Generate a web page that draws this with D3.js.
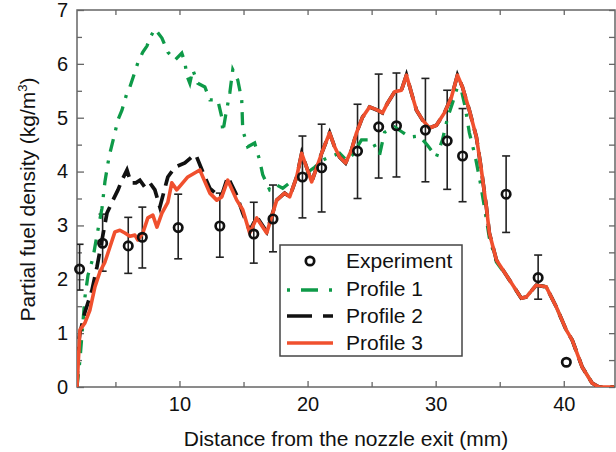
<!DOCTYPE html>
<html><head><meta charset="utf-8">
<script src="https://cdn.jsdelivr.net/npm/d3@7"></script>
<style>
body{margin:0;background:#fff}
svg{display:block}
text{font-family:"Liberation Sans",Arial,Helvetica,sans-serif;fill:#111}
</style>
</head><body>
<svg id="chart" width="616" height="452"></svg>
<script>
// ---------- data ----------
const xMajorTicks = [10, 20, 30, 40];
const xMinorTicks = [5, 15, 25, 35];
const yMajorTicks = [0, 1, 2, 3, 4, 5, 6, 7];
const yMinorTicks = [0.5, 1.5, 2.5, 3.5, 4.5, 5.5, 6.5];

const expX  = [2.2, 4.0, 6.0, 7.1, 9.9, 13.15, 15.8, 17.3, 19.6, 21.1, 23.9, 25.55, 26.94, 29.2, 30.9, 32.1, 35.5, 38.0, 40.2];
const expY  = [2.19, 2.67, 2.62, 2.78, 2.96, 2.99, 2.84, 3.12, 3.9, 4.07, 4.38, 4.83, 4.85, 4.77, 4.57, 4.29, 3.58, 2.03, 0.46];
const expLo = [1.8, 2.15, 2.11, 2.21, 2.38, 2.41, 2.3, 2.51, 3.14, 3.25, 3.5, 3.88, 3.9, 3.81, 3.67, 3.44, 2.87, 1.63, 0.46];
const expHi = [2.65, 3.21, 3.15, 3.34, 3.58, 3.6, 3.43, 3.75, 4.66, 4.88, 5.25, 5.81, 5.83, 5.73, 5.51, 5.17, 4.29, 2.45, 0.46];

const profile1 = [
 [2.0,0],[2.23,0.5],[2.62,1.67],[2.86,2.08],[3.25,2.4],[3.56,2.82],[3.95,3.32],[4.18,3.81],[4.42,4.16],[4.57,4.34],
 [4.96,4.72],[5.2,4.96],[5.51,5.14],[5.9,5.46],[6.13,5.57],[6.52,5.85],[6.75,6.02],[7.14,6.22],[7.46,6.33],[7.69,6.48],
 [8.08,6.65],[8.63,6.48],[9.09,6.22],[9.64,6.07],[10.18,6.2],[10.42,6.03],[10.57,5.79],[10.81,5.64],[11.04,5.89],[11.43,5.64],
 [11.98,5.57],[12.37,5.33],[12.68,5.33],[12.99,5.33],[13.3,5.01],[13.38,4.73],[13.61,5.05],[13.93,5.46],[14.16,5.89],[14.55,5.7],
 [14.86,5.33],[14.94,4.77],[15.33,4.46],[15.87,4.53],[16.26,4.21],[16.5,3.94],[17.04,3.66],[17.59,3.75],[18.06,3.69],[18.6,3.79],
 [19.38,3.9],[19.93,3.97],[20.55,4.08],[21.17,4.21],[21.72,4.27],[22.5,4.34],[23.04,4.21],[23.51,4.31],[24.21,4.59],[24.99,4.59],
 [25.62,4.31],[26.01,4.73],[26.79,4.83],[27.41,4.73],[27.96,4.64],[28.73,4.66],[29.36,4.49],[30.06,4.27],[30.53,4.59],[30.92,4.99],
 [31.31,5.27],[31.7,5.57],[32.01,5.51],[32.32,5.18],[32.63,4.72],[33.1,4.27],[33.49,3.79],[33.88,3.23],[34.19,2.77],[34.74,2.32],
 [35.75,1.99],[36.68,1.65],[37.07,1.67],[37.85,1.89],[38.63,1.86],[39.41,1.49],[40.19,1.06],[40.66,0.87],[41.44,0.37],[42.22,0.07],
 [42.76,0],[43.93,0]
];

const profile2 = [
 [2.0,0],[2.08,0.74],[2.23,1.0],[2.62,1.39],[3.17,1.8],[3.56,2.23],[3.95,2.73],[4.34,3.23],[4.81,3.47],[5.2,3.66],
 [5.51,3.84],[5.9,4.03],[6.21,3.79],[6.6,3.79],[6.91,3.84],[7.3,3.71],[7.69,3.79],[8.08,3.66],[8.47,3.34],[9.09,3.9],
 [9.64,4.08],[10.42,4.16],[10.96,4.27],[11.28,4.31],[11.98,3.9],[12.37,3.69],[12.99,3.56],[13.3,3.56],[13.77,3.9],[14.47,3.56],
 [14.94,3.23],[15.48,2.9],[16.03,3.16],[16.81,2.88],[17.59,3.47],[18.21,3.6],[18.6,3.53],[19.15,3.9],[19.54,4.34],[20.32,3.81],
 [21.1,4.34],[21.72,4.72],[22.11,4.46],[22.5,4.27],[22.97,4.16],[23.43,4.4],[23.82,4.72],[24.29,5.01],[24.84,5.2],[25.46,5.14],
 [25.85,5.09],[26.24,5.27],[26.79,5.48],[27.33,5.51],[27.72,5.79],[28.11,5.46],[28.5,5.14],[28.97,4.96],[29.51,4.81],[30.06,4.86],
 [30.68,5.09],[31.23,5.38],[31.7,5.79],[32.09,5.57],[32.63,5.14],[33.18,4.64],[33.57,4.03],[33.96,3.34],[34.19,2.86],[34.74,2.36],
 [35.75,1.99],[36.68,1.65],[37.07,1.67],[37.85,1.89],[38.63,1.86],[39.41,1.49],[40.19,1.06],[40.66,0.87],[41.44,0.37],[42.22,0.07],
 [42.76,0],[43.93,0]
];

const profile3 = [
 [2.0,0],[2.23,1.06],[2.62,1.19],[3.01,1.43],[3.4,1.86],[3.79,2.14],[4.18,2.32],[4.57,2.6],[4.96,2.88],[5.35,2.91],
 [5.74,2.86],[6.13,2.8],[6.52,2.82],[6.75,2.73],[7.14,2.86],[7.53,3.14],[7.92,3.19],[8.24,2.97],[8.63,3.23],[9.09,3.43],
 [9.4,3.79],[9.79,3.66],[10.65,3.9],[11.59,4.03],[12.37,3.6],[12.91,3.47],[13.3,3.53],[13.77,3.84],[14.47,3.47],[14.94,3.29],
 [15.48,2.86],[16.03,3.14],[16.81,2.86],[17.59,3.47],[18.21,3.6],[18.6,3.53],[19.15,3.9],[19.54,4.34],[20.32,3.81],[21.1,4.34],
 [21.72,4.72],[22.11,4.46],[22.5,4.27],[22.97,4.16],[23.43,4.4],[23.82,4.72],[24.29,5.01],[24.84,5.2],[25.46,5.14],[25.85,5.09],
 [26.24,5.27],[26.79,5.48],[27.33,5.51],[27.72,5.79],[28.11,5.46],[28.5,5.14],[28.97,4.96],[29.51,4.81],[30.06,4.86],[30.68,5.09],
 [31.23,5.38],[31.7,5.79],[32.09,5.57],[32.63,5.14],[33.18,4.64],[33.57,4.03],[33.96,3.34],[34.19,2.86],[34.74,2.36],[35.75,1.99],
 [36.68,1.65],[37.07,1.67],[37.85,1.89],[38.63,1.86],[39.41,1.49],[40.19,1.06],[40.66,0.87],[41.44,0.37],[42.22,0.07],[42.76,0],
 [43.93,0]
];

const legendLabels = ["Experiment", "Profile 1", "Profile 2", "Profile 3"];
const xTitle = "Distance from the nozzle exit (mm)";

// ---------- layout ----------
const L = 77, R = 615, T = 10, B = 387;
const svg = d3.select("#chart");
const x = d3.scaleLinear().domain([2, 44]).range([L, R]);
const y = d3.scaleLinear().domain([0, 7]).range([B, T]);

const GREEN = "#0e9a48", RED = "#f0502e", BLACK = "#111";
const axisColor = "#666";

function styleAxis(g) {
  g.select(".domain").remove();
  g.selectAll(".tick line").attr("stroke", axisColor).attr("stroke-width", 1.3);
  g.selectAll(".tick text").attr("font-size", 20).attr("fill", "#111")
   .style("font-family", '"Liberation Sans",Arial,Helvetica,sans-serif');
}

// axes
svg.append("g").attr("transform", `translate(0,${B})`)
  .call(d3.axisBottom(x).tickValues(xMajorTicks).tickSizeInner(-6).tickSizeOuter(0).tickPadding(10).tickFormat(d3.format("d")))
  .call(styleAxis);
svg.append("g").attr("transform", `translate(0,${B})`)
  .call(d3.axisBottom(x).tickValues(xMinorTicks).tickSizeInner(-5).tickSizeOuter(0).tickFormat(""))
  .call(styleAxis);
svg.append("g").attr("transform", `translate(0,${T})`)
  .call(d3.axisTop(x).tickValues(xMajorTicks.concat(xMinorTicks)).tickSizeInner(-5).tickSizeOuter(0).tickFormat(""))
  .call(styleAxis);
svg.append("g").attr("transform", `translate(${L},0)`)
  .call(d3.axisLeft(y).tickValues(yMajorTicks).tickSizeInner(-7).tickSizeOuter(0).tickPadding(9).tickFormat(d3.format("d")))
  .call(styleAxis);
svg.append("g").attr("transform", `translate(${L},0)`)
  .call(d3.axisLeft(y).tickValues(yMinorTicks).tickSizeInner(-5).tickSizeOuter(0).tickFormat(""))
  .call(styleAxis);
svg.append("g").attr("transform", `translate(${R},0)`)
  .call(d3.axisRight(y).tickValues(yMajorTicks.concat(yMinorTicks)).tickSizeInner(-6).tickSizeOuter(0).tickFormat(""))
  .call(styleAxis);

svg.append("rect").attr("x", L).attr("y", T).attr("width", R - L).attr("height", B - T)
  .attr("fill", "none").attr("stroke", axisColor).attr("stroke-width", 1.5);

// clip
svg.append("clipPath").attr("id", "clip").append("rect")
  .attr("x", L).attr("y", T - 2).attr("width", R - L).attr("height", B - T + 2);

const plot = svg.append("g").attr("clip-path", "url(#clip)");

// experiment error bars
const expData = expX.map((d, i) => ({x: d, y: expY[i], lo: expLo[i], hi: expHi[i]}));
const eb = plot.append("g").attr("stroke", "#222").attr("stroke-width", 1.6);
expData.filter(d => d.hi > d.lo).forEach(d => {
  eb.append("line").attr("x1", x(d.x)).attr("x2", x(d.x)).attr("y1", y(d.lo)).attr("y2", y(d.hi));
  eb.append("line").attr("x1", x(d.x) - 4).attr("x2", x(d.x) + 4).attr("y1", y(d.lo)).attr("y2", y(d.lo));
  eb.append("line").attr("x1", x(d.x) - 4).attr("x2", x(d.x) + 4).attr("y1", y(d.hi)).attr("y2", y(d.hi));
});

const line = d3.line().x(d => x(d[0])).y(d => y(d[1]));

plot.append("path").datum(profile1).attr("d", line).attr("fill", "none")
  .attr("stroke", GREEN).attr("stroke-width", 3.3).attr("stroke-dasharray", "13,9,3,9");
plot.append("path").datum(profile2).attr("d", line).attr("fill", "none")
  .attr("stroke", BLACK).attr("stroke-width", 3.7).attr("stroke-dasharray", "16,8");
plot.append("path").datum(profile3).attr("d", line).attr("fill", "none")
  .attr("stroke", RED).attr("stroke-width", 3.6).attr("stroke-linejoin", "round");

svg.append("g").selectAll("circle").data(expData).join("circle")
  .attr("cx", d => x(d.x)).attr("cy", d => y(d.y)).attr("r", 4.2)
  .attr("fill", "none").attr("stroke", "#111").attr("stroke-width", 2.7);

// legend
const lg = svg.append("g");
lg.append("rect").attr("x", 280).attr("y", 245).attr("width", 182).attr("height", 111)
  .attr("fill", "#fff").attr("stroke", "#444").attr("stroke-width", 1.5);
lg.append("circle").attr("cx", 310).attr("cy", 261).attr("r", 4.2)
  .attr("fill", "none").attr("stroke", "#111").attr("stroke-width", 2.7);
lg.append("line").attr("x1", 287).attr("x2", 333).attr("y1", 290).attr("y2", 290)
  .attr("stroke", GREEN).attr("stroke-width", 3.3).attr("stroke-dasharray", "3,11,17,11");
lg.append("line").attr("x1", 287).attr("x2", 333).attr("y1", 316).attr("y2", 316)
  .attr("stroke", BLACK).attr("stroke-width", 3.7).attr("stroke-dasharray", "25,11");
lg.append("line").attr("x1", 287).attr("x2", 333).attr("y1", 343).attr("y2", 343)
  .attr("stroke", RED).attr("stroke-width", 3.6);
[268, 296, 323, 350].forEach((by, i) => {
  lg.append("text").attr("x", 346).attr("y", by).attr("font-size", 21).text(legendLabels[i]);
});

// titles
svg.append("text").attr("x", (L + R) / 2 + 0).attr("y", 446).attr("text-anchor", "middle")
  .attr("font-size", 21).text(xTitle);
const yt = svg.append("text").attr("transform", `translate(35,${(77 + 322) / 2}) rotate(-90)`)
  .attr("text-anchor", "middle").attr("font-size", 21);
yt.append("tspan").text("Partial fuel density (kg/m");
yt.append("tspan").attr("font-size", 13).attr("dy", -8).text("3");
yt.append("tspan").attr("dy", 8).text(")");
</script>
</body></html>
